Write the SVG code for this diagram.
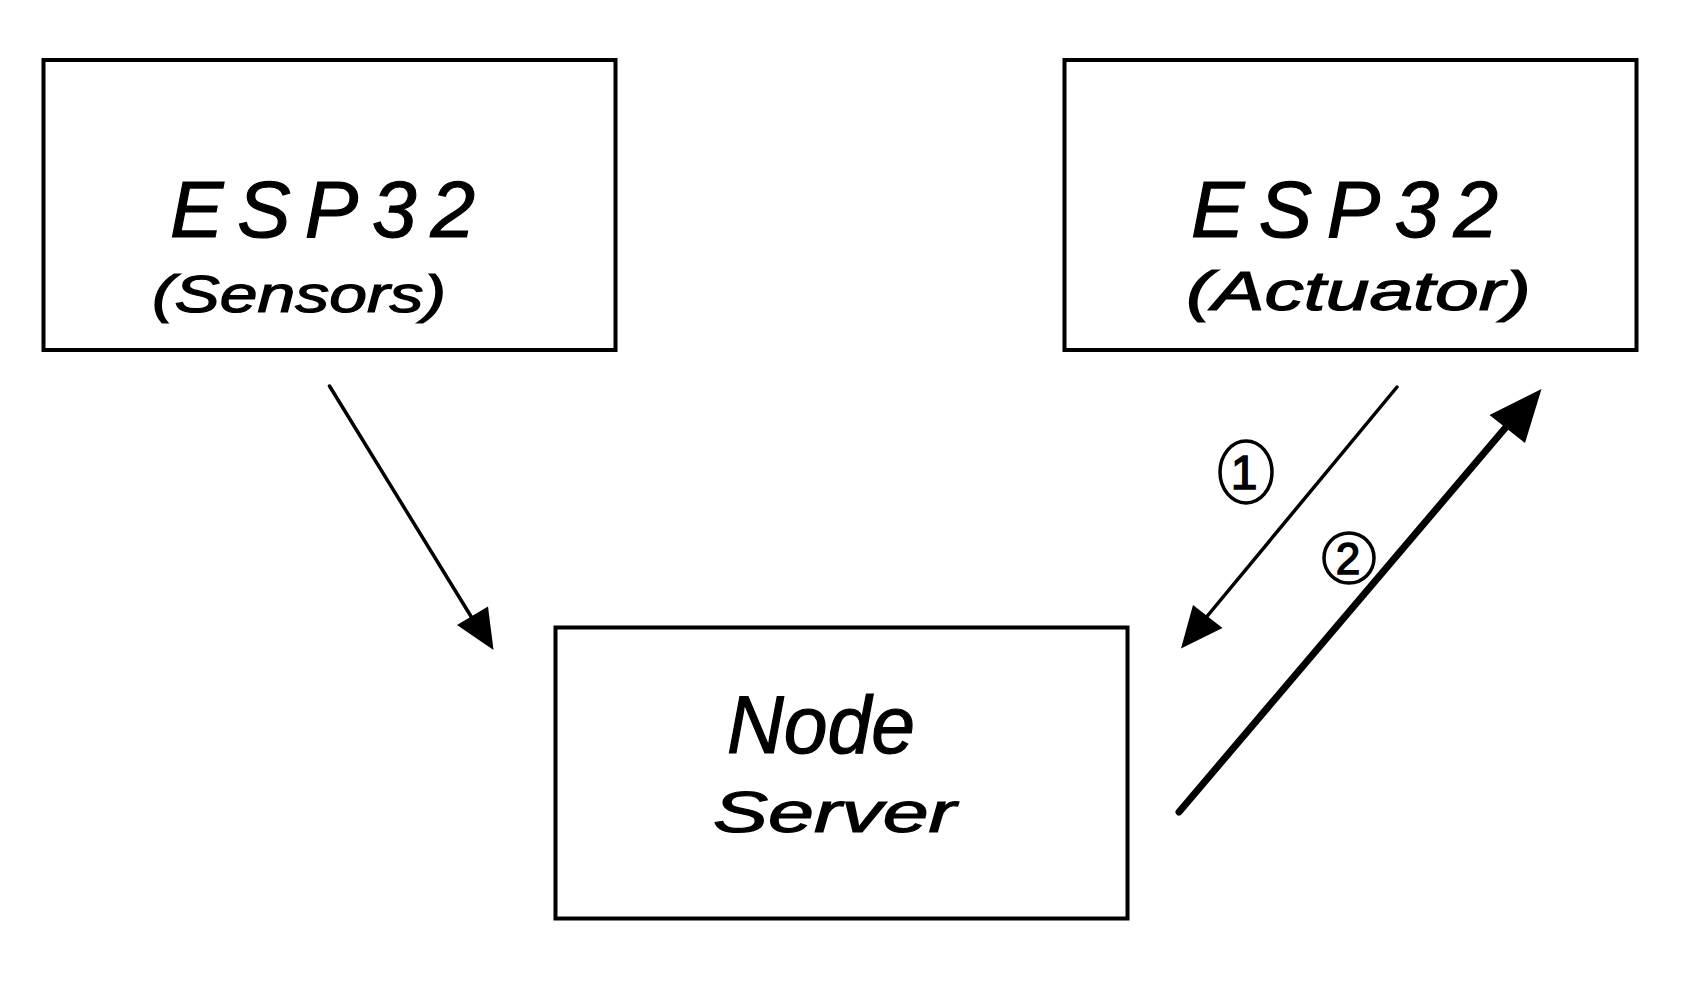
<svg xmlns="http://www.w3.org/2000/svg" width="1705" height="982" viewBox="0 0 1705 982">
<style>
.box{fill:#fff;stroke:#000;stroke-width:4}
.lbl{font-family:"Liberation Sans",Arial,sans-serif;font-style:italic;fill:#000;stroke:#000;stroke-width:1.2}
.conn{stroke:#000;fill:none;stroke-linecap:round}
.head{fill:#000;stroke:none}
.circ{fill:none;stroke:#000;stroke-width:3.5}
.num{font-family:"Liberation Sans",Arial,sans-serif;fill:#000;stroke:#000;stroke-width:1.5;text-anchor:middle}
</style>
<rect width="1705" height="982" fill="#fff"/>
<g id="node-sensors">
<rect class="box" x="43.5" y="60" width="572" height="290"/>
<text class="lbl" x="170" y="237" font-size="80" textLength="305" lengthAdjust="spacing">ESP32</text>
<text class="lbl" x="152" y="312" font-size="52" textLength="294" lengthAdjust="spacingAndGlyphs">(Sensors)</text>
</g>
<g id="node-actuator">
<rect class="box" x="1064.5" y="60" width="572" height="290"/>
<text class="lbl" x="1191" y="237" font-size="80" textLength="307" lengthAdjust="spacing">ESP32</text>
<text class="lbl" x="1186" y="310" font-size="56" textLength="345" lengthAdjust="spacingAndGlyphs">(Actuator)</text>
</g>
<g id="node-server">
<rect class="box" x="555.5" y="627.5" width="572" height="291"/>
<text class="lbl" x="727" y="753" font-size="82" textLength="188" lengthAdjust="spacingAndGlyphs">Node</text>
<text class="lbl" x="713" y="832" font-size="58" textLength="243" lengthAdjust="spacingAndGlyphs">Server</text>
</g>
<g id="connectors">
<line class="conn" x1="329.5" y1="386" x2="472" y2="618" stroke-width="3.5"/>
<polygon class="head" points="493.5,650 457,625 488,606.5"/>
<line class="conn" x1="1397" y1="387" x2="1204" y2="620" stroke-width="3.5"/>
<polygon class="head" points="1181,648.5 1193,605 1222.5,628"/>
<line class="conn" x1="1179" y1="812" x2="1512" y2="420" stroke-width="7"/>
<polygon class="head" points="1541.5,389 1489.5,415 1525,443"/>
<g id="label-1">
<ellipse class="circ" cx="1246" cy="472" rx="26" ry="31"/>
<text class="num" x="1244" y="489" font-size="48">1</text>
</g>
<g id="label-2">
<ellipse class="circ" cx="1349" cy="558" rx="25" ry="25"/>
<text class="num" x="1348" y="574" font-size="44">2</text>
</g>
</g>
</svg>
